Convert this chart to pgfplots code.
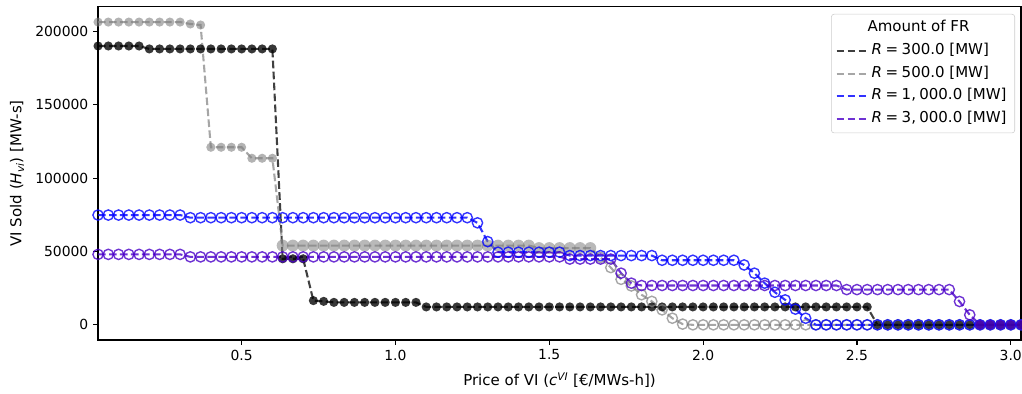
\documentclass[border=0pt]{standalone}
\usepackage{fontspec}
\setmainfont{DejaVu Sans}
\usepackage{pgfplots}
\usepackage{pgfplotstable}
\pgfplotsset{compat=1.18}

\definecolor{cgray}{rgb}{0.5,0.5,0.5}
\definecolor{cblue}{rgb}{0,0,1}
\definecolor{cpurple}{HTML}{4A00C8}

% R = 300 MW
\pgfplotstableread[row sep=\\]{
k y\\
1 190000\\ 2 190000\\ 3 190000\\ 4 190000\\ 5 190000\\
6 188000\\ 7 188000\\ 8 188000\\ 9 188000\\ 10 188000\\ 11 188000\\ 12 188000\\ 13 188000\\ 14 188000\\ 15 188000\\ 16 188000\\ 17 188000\\ 18 188000\\
19 45000\\ 20 45000\\ 21 45000\\ 22 16500\\ 23 16000\\
24 15300\\ 25 15300\\ 26 15300\\ 27 15300\\ 28 15300\\ 29 15300\\ 30 15300\\ 31 15300\\ 32 15300\\
33 12200\\ 34 12200\\ 35 12200\\ 36 12200\\ 37 12200\\ 38 12200\\ 39 12200\\ 40 12200\\ 41 12200\\ 42 12200\\
43 12200\\ 44 12200\\ 45 12200\\ 46 12200\\ 47 12200\\ 48 12200\\ 49 12200\\ 50 12200\\ 51 12200\\ 52 12200\\
53 12200\\ 54 12200\\ 55 12200\\ 56 12200\\ 57 12200\\ 58 12200\\ 59 12200\\ 60 12200\\ 61 12200\\ 62 12200\\
63 12200\\ 64 12200\\ 65 12200\\ 66 12200\\ 67 12200\\ 68 12200\\ 69 12200\\ 70 12200\\ 71 12200\\ 72 12200\\
73 12200\\ 74 12200\\ 75 12200\\ 76 12200\\
77 0\\ 78 0\\ 79 0\\ 80 0\\ 81 0\\ 82 0\\ 83 0\\ 84 0\\ 85 0\\ 86 0\\ 87 0\\ 88 0\\ 89 0\\ 90 0\\ 91 0\\
}\tblack

% R = 500 MW
\pgfplotstableread[row sep=\\]{
k y\\
1 206300\\ 2 206300\\ 3 206300\\ 4 206300\\ 5 206300\\ 6 206300\\ 7 206300\\ 8 206300\\ 9 206300\\ 10 205000\\ 11 204300\\
12 121000\\ 13 121000\\ 14 121000\\ 15 121000\\ 16 113500\\ 17 113500\\ 18 113500\\
19 54000\\ 20 54000\\ 21 54000\\ 22 54000\\ 23 54000\\ 24 54000\\ 25 54000\\ 26 54000\\ 27 54000\\ 28 54000\\
29 54000\\ 30 54000\\ 31 54000\\ 32 54000\\ 33 54000\\ 34 54000\\ 35 54000\\ 36 54000\\ 37 54000\\ 38 54000\\
39 54000\\ 40 54000\\ 41 54000\\ 42 54000\\ 43 54000\\
44 52300\\ 45 52300\\ 46 52300\\ 47 52300\\ 48 52300\\ 49 52300\\
50 46000\\ 51 39000\\ 52 31000\\ 53 26500\\ 54 20500\\ 55 16000\\ 56 10200\\ 57 4500\\ 58 500\\
59 0\\ 60 0\\ 61 0\\ 62 0\\ 63 0\\ 64 0\\ 65 0\\ 66 0\\ 67 0\\ 68 0\\ 69 0\\ 70 0\\ 71 0\\ 72 0\\ 73 0\\ 74 0\\ 75 0\\
76 0\\ 77 0\\ 78 0\\ 79 0\\ 80 0\\ 81 0\\ 82 0\\ 83 0\\ 84 0\\ 85 0\\ 86 0\\ 87 0\\ 88 0\\ 89 0\\ 90 0\\ 91 0\\
}\tgray

% R = 1000 MW
\pgfplotstableread[row sep=\\]{
k y\\
1 74800\\ 2 74800\\ 3 74800\\ 4 74800\\ 5 74800\\ 6 74800\\ 7 74800\\ 8 74800\\ 9 74800\\
10 73000\\ 11 73000\\ 12 73000\\ 13 73000\\ 14 73000\\ 15 73000\\ 16 73000\\ 17 73000\\ 18 73000\\ 19 73000\\
20 73000\\ 21 73000\\ 22 73000\\ 23 73000\\ 24 73000\\ 25 73000\\ 26 73000\\ 27 73000\\ 28 73000\\ 29 73000\\
30 73000\\ 31 73000\\ 32 73000\\ 33 73000\\ 34 73000\\ 35 73000\\ 36 73000\\ 37 73000\\
38 69500\\ 39 56700\\
40 49500\\ 41 49500\\ 42 49500\\ 43 49500\\ 44 49500\\ 45 49500\\ 46 49500\\
47 47200\\ 48 47200\\ 49 47200\\ 50 47200\\ 51 47200\\ 52 47200\\ 53 47200\\ 54 47200\\ 55 47200\\
56 44000\\ 57 44000\\ 58 44000\\ 59 44000\\ 60 44000\\ 61 44000\\ 62 44000\\ 63 44000\\
64 40800\\ 65 35200\\ 66 28400\\ 67 22200\\ 68 17000\\ 69 10700\\ 70 4500\\
71 0\\ 72 0\\ 73 0\\ 74 0\\ 75 0\\ 76 0\\ 77 0\\ 78 0\\ 79 0\\ 80 0\\ 81 0\\
82 0\\ 83 0\\ 84 0\\ 85 0\\ 86 0\\ 87 0\\ 88 0\\ 89 0\\ 90 0\\ 91 0\\
}\tblue

% R = 3000 MW
\pgfplotstableread[row sep=\\]{
k y\\
1 48000\\ 2 48000\\ 3 48000\\ 4 48000\\ 5 48000\\ 6 48000\\ 7 48000\\ 8 48000\\ 9 48000\\
10 46300\\ 11 46300\\ 12 46300\\ 13 46300\\ 14 46300\\ 15 46300\\ 16 46300\\ 17 46300\\ 18 46300\\ 19 46300\\
20 46300\\ 21 46300\\ 22 46300\\ 23 46300\\ 24 46300\\ 25 46300\\ 26 46300\\ 27 46300\\ 28 46300\\ 29 46300\\
30 46300\\ 31 46300\\ 32 46300\\ 33 46300\\ 34 46300\\ 35 46300\\ 36 46300\\ 37 46300\\ 38 46300\\ 39 46300\\
40 46300\\ 41 46300\\ 42 46300\\ 43 46300\\ 44 46300\\ 45 46300\\ 46 46300\\
47 44800\\ 48 44800\\ 49 44800\\ 50 44800\\ 51 44800\\
52 35200\\ 53 28400\\
54 26800\\ 55 26800\\ 56 26800\\ 57 26800\\ 58 26800\\ 59 26800\\ 60 26800\\ 61 26800\\ 62 26800\\ 63 26800\\
64 26800\\ 65 26800\\ 66 26800\\ 67 26800\\ 68 26800\\ 69 26800\\ 70 26800\\ 71 26800\\ 72 26800\\ 73 26800\\
74 24000\\ 75 24000\\ 76 24000\\ 77 24000\\ 78 24000\\ 79 24000\\ 80 24000\\ 81 24000\\ 82 24000\\ 83 24000\\ 84 24000\\
85 15900\\ 86 6800\\
87 0\\ 88 0\\ 89 0\\ 90 0\\ 91 0\\
}\tpurple

\begin{document}
\begin{tikzpicture}
\begin{axis}[
  name=ax,
  scale only axis,
  width=664.6pt, height=239.8pt,
  xmin=0.033333, xmax=3.033333,
  ymin=-10315, ymax=216615,
  xtick={0.5,1.0,1.5,2.0,2.5,3.0},
  ytick={0,50000,100000,150000,200000},
  scaled ticks=false,
  /pgf/number format/assume math mode=true,
  xticklabel style={/pgf/number format/fixed, /pgf/number format/fixed zerofill, /pgf/number format/precision=1},
  yticklabel style={/pgf/number format/fixed, /pgf/number format/set thousands separator={}},
  tick align=outside,
  xtick pos=left, ytick pos=left,
  major tick length=3.5pt,
  tick style={black, line width=0.8pt},
  axis line style={line width=0.8pt},
  xlabel={Price of VI (\textit{c}\textsuperscript{\textit{VI}} [€/MWs-h])},
  ylabel={VI Sold (\textit{H}\textsubscript{\textit{vi}}) [MW-s]},
  label style={font=\fontsize{10.8}{13}\selectfont},
  xlabel style={at={(axis description cs:0.5,-0.12)}, anchor=center},
  ylabel style={at={(axis description cs:-0.0878,0.5)}, anchor=center},
  legend cell align=left,
  legend image code/.code={\draw[#1] (0pt,0pt) -- (21.5pt,0pt);},
  legend style={at={(0.9935,0.979)}, anchor=north east, draw=black!20, rounded corners=2pt,
    fill=white, fill opacity=0.8, text opacity=1, inner xsep=3pt, inner ysep=2pt,
    font=\fontsize{10.8}{13}\selectfont,
    nodes={inner sep=2.9pt, text height=7.9pt, text depth=2.6pt}},
  ls/.style={line width=1.5pt, dash pattern=on 5.5pt off 2.4pt},
]
% black
\addplot[forget plot, draw=black, draw opacity=0.75, ls, mark=none] table[x expr=\thisrow{k}/30, y=y] {\tblack};
\addplot[forget plot, black, only marks, mark=*, mark size=3.3pt, mark options={draw opacity=0, fill=black, fill opacity=0.78}] table[x expr=\thisrow{k}/30, y=y] {\tblack};
% gray
\addplot[forget plot, draw=cgray, draw opacity=0.7, ls, mark=none] table[x expr=\thisrow{k}/30, y=y] {\tgray};
\addplot[forget plot, cgray, only marks, mark=*, mark size=3.3pt, mark options={draw opacity=0, fill=cgray, fill opacity=0.6}, restrict expr to domain={\coordindex}{0:17}] table[x expr=\thisrow{k}/30, y=y] {\tgray};
\addplot[forget plot, cgray, only marks, mark=*, mark size=4.3pt, mark options={draw opacity=0, fill=cgray, fill opacity=0.55}, restrict expr to domain={\coordindex}{18:48}] table[x expr=\thisrow{k}/30, y=y] {\tgray};
\addplot[forget plot, cgray, only marks, mark=o, mark size=3.7pt, mark options={draw=cgray, draw opacity=0.7, line width=1pt}, restrict expr to domain={\coordindex}{49:90}] table[x expr=\thisrow{k}/30, y=y] {\tgray};
% blue
\addplot[forget plot, draw=cblue, draw opacity=0.8, ls, mark=none] table[x expr=\thisrow{k}/30, y=y] {\tblue};
\addplot[forget plot, cblue, only marks, mark=o, mark size=3.7pt, mark options={draw=cblue, draw opacity=0.8, line width=1pt}] table[x expr=\thisrow{k}/30, y=y] {\tblue};
% purple
\addplot[forget plot, draw=cpurple, draw opacity=0.8, ls, mark=none] table[x expr=\thisrow{k}/30, y=y] {\tpurple};
\addplot[forget plot, cpurple, only marks, mark=o, mark size=3.7pt, mark options={draw=cpurple, draw opacity=0.8, line width=1pt}, restrict expr to domain={\coordindex}{0:85}] table[x expr=\thisrow{k}/30, y=y] {\tpurple};
\addplot[forget plot, cpurple, only marks, mark=*, mark size=3.6pt, mark options={draw opacity=0, fill=cpurple, fill opacity=0.8}, restrict expr to domain={\coordindex}{86:90}] table[x expr=\thisrow{k}/30, y=y] {\tpurple};

\addlegendimage{empty legend}
\addlegendentry{\hspace*{-2.9pt}Amount of FR}
\addlegendimage{draw=black, draw opacity=0.75, ls}
\addlegendentry{\textit{R}\hspace{2.6pt}=\hspace{2.6pt}300.0 [MW]}
\addlegendimage{draw=cgray, draw opacity=0.7, ls}
\addlegendentry{\textit{R}\hspace{2.6pt}=\hspace{2.6pt}500.0 [MW]}
\addlegendimage{draw=cblue, draw opacity=0.8, ls}
\addlegendentry{\textit{R}\hspace{2.6pt}=\hspace{2.6pt}1,\hspace{2.4pt}000.0 [MW]}
\addlegendimage{draw=cpurple, draw opacity=0.8, ls}
\addlegendentry{\textit{R}\hspace{2.6pt}=\hspace{2.6pt}3,\hspace{2.4pt}000.0 [MW]}
\end{axis}
\pgfresetboundingbox
\path[use as bounding box] ([xshift=-70.6pt,yshift=-38.2pt]ax.south west) rectangle ([xshift=0.7pt,yshift=5pt]ax.north east);
\end{tikzpicture}
\end{document}
